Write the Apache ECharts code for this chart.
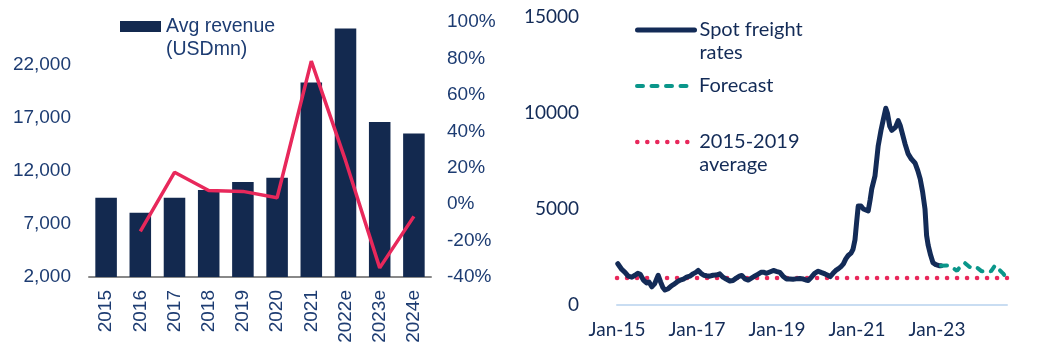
<!DOCTYPE html>
<html><head><meta charset="utf-8">
<script src="https://cdn.jsdelivr.net/npm/echarts@6/dist/echarts.min.js"></script>
<style>html,body{margin:0;padding:0;background:#fff}#c{width:1037px;height:356px}</style>
</head><body><div id="c"></div>
<script>
// ---- Left chart data ----
const categories = ['2015','2016','2017','2018','2019','2020','2021','2022e','2023e','2024e'];
const revenue = [9450, 8050, 9450, 10200, 10950, 11350, 20300, 25400, 16600, 15500];
const growthPct = [null, -15, 17.5, 7.5, 7, 3.5, 78.5, 24, -35, -6.7];
const revenueTicks = ['2,000','7,000','12,000','17,000','22,000'];

// ---- Right chart data ----
const spotDates = [2015.02,2015.06,2015.12,2015.20,2015.28,2015.37,2015.45,2015.52,2015.58,2015.66,2015.74,2015.80,2015.87,2015.94,
2016.03,2016.09,2016.15,2016.20,2016.28,2016.36,2016.44,2016.50,2016.58,2016.66,2016.74,2016.82,2016.90,2016.97,
2017.03,2017.10,2017.17,2017.24,2017.32,2017.40,2017.48,2017.57,2017.65,2017.73,2017.82,2017.90,2017.98,
2018.06,2018.12,2018.20,2018.28,2018.36,2018.44,2018.52,2018.60,2018.66,2018.74,2018.82,2018.91,2018.98,
2019.07,2019.15,2019.24,2019.32,2019.40,2019.48,2019.57,2019.66,2019.72,2019.78,2019.86,2019.94,
2020.03,2020.10,2020.20,2020.27,2020.33,2020.40,2020.47,2020.53,2020.60,2020.66,2020.72,2020.78,2020.85,2020.90,2020.95,2020.99,
2021.03,2021.10,2021.16,2021.22,2021.28,2021.33,2021.37,2021.45,2021.53,2021.60,2021.66,2021.72,2021.76,2021.82,2021.87,2021.92,2021.96,
2022.03,2022.08,2022.12,2022.20,2022.28,2022.36,2022.45,2022.52,2022.58,2022.64,2022.70,2022.74,2022.78,2022.84,2022.90,2022.97,
2023.05,2023.10];
const spotValues = [2150,2100,1850,1700,1500,1450,1550,1650,1600,1300,1150,1200,950,1100,
1550,1200,900,780,850,1000,1100,1200,1300,1350,1450,1500,1620,1700,
1800,1650,1550,1520,1500,1550,1560,1620,1450,1350,1250,1280,1400,
1500,1540,1360,1300,1400,1500,1600,1700,1710,1650,1720,1800,1750,
1700,1500,1360,1350,1340,1360,1380,1350,1300,1280,1450,1650,
1760,1700,1620,1550,1480,1650,1800,1880,2000,2140,2400,2580,2700,2900,3400,4300,
5150,5150,5000,4950,4900,5500,6060,6730,8290,9100,9680,10250,10000,9300,9100,9000,9250,
9600,9350,9300,8400,7870,7600,7400,7000,6570,5900,5000,3620,3100,2600,2200,2100,
2050,2050];
const forecastDates = [2023.10,2023.25,2023.35,2023.50,2023.62,2023.70,2023.80,2023.90,2024.00,2024.12,2024.25,2024.35,2024.45,2024.55,2024.65,2024.74];
const forecastValues = [2050,2060,2000,1780,2100,2180,2000,1900,1950,1750,1800,1750,2060,1850,1650,1400];
const average2015to2019 = 1400;
const timeTicks = ['Jan-15','Jan-17','Jan-19','Jan-21','Jan-23'];
const timeStart = 2015, timeEnd = 2024.75;

const NAVY = '#13294f', LBL = '#1d3c72', RNAVY = '#132b57', PINK = '#e8285b', TEAL = '#0a968a';
const ARIAL = '"Liberation Sans", Arial, sans-serif';
const RFONT = 'Lato, "Noto Sans", sans-serif';
const firstLine = n => '\n' + n;   // keeps the legend icon level with the first text line

const spotLine = {color: RNAVY, width: 5, join: 'round', cap: 'round'};
const forecastLine = {color: TEAL, width: 4, type: [6, 8.5], cap: 'round'};
const avgLine = {color: PINK, width: 4.5, type: [0.1, 9.9], cap: 'round'};

const chart = echarts.init(document.getElementById('c'));
chart.setOption({
  animation: false,
  grid: [
    {left: 89, top: 22, width: 342, height: 255},
    {left: 617, top: 17, width: 390, height: 288}
  ],
  legend: [
    {left: 120, top: -8, padding: 0, selectedMode: false, formatter: firstLine,
     itemWidth: 41, itemHeight: 11, icon: 'rect', data: ['Avg revenue\n(USDmn)'],
     textStyle: {color: LBL, fontFamily: ARIAL, fontSize: 19.5, lineHeight: 23}},
    {left: 635, top: -4.5, padding: 0, selectedMode: false, formatter: firstLine,
     itemWidth: 57, itemHeight: 14, itemStyle: {opacity: 0}, lineStyle: spotLine,
     data: ['Spot freight\nrates'],
     textStyle: {color: RNAVY, fontFamily: RFONT, fontSize: 20, lineHeight: 23}},
    {left: 635, top: 74.5, padding: 0, selectedMode: false, itemWidth: 57, itemHeight: 14,
     itemStyle: {opacity: 0}, lineStyle: forecastLine, data: ['Forecast'],
     textStyle: {color: RNAVY, fontFamily: RFONT, fontSize: 20, lineHeight: 23}},
    {left: 635, top: 107.5, padding: 0, selectedMode: false, formatter: firstLine,
     itemWidth: 57, itemHeight: 14, itemStyle: {opacity: 0}, lineStyle: avgLine,
     data: ['2015-2019\naverage'],
     textStyle: {color: RNAVY, fontFamily: RFONT, fontSize: 20, lineHeight: 23}}
  ],
  xAxis: [
    {type: 'category', gridIndex: 0, data: categories,
     axisLine: {onZero: false, lineStyle: {color: '#888888', width: 2}}, axisTick: {show: false},
     axisLabel: {rotate: 90, margin: 13, color: LBL, fontFamily: ARIAL, fontSize: 19}},
    {type: 'value', gridIndex: 1, min: timeStart, max: timeEnd, interval: 2,
     splitLine: {show: false}, axisTick: {show: false},
     axisLine: {show: true, onZero: false, lineStyle: {color: '#c9ddf2', width: 2}},
     axisLabel: {margin: 15, color: RNAVY, fontFamily: RFONT, fontSize: 19, showMaxLabel: false,
       formatter: v => { const i = Math.round((v - timeStart) / 2); return (Math.abs(v - timeStart - 2*i) < 1e-6 && timeTicks[i]) ? timeTicks[i] : ''; }}}
  ],
  yAxis: [
    {type: 'value', gridIndex: 0, min: 2000, max: 26000, interval: 5000,
     splitLine: {show: false}, axisLine: {show: false}, axisTick: {show: false},
     axisLabel: {margin: 18, color: LBL, fontFamily: ARIAL, fontSize: 19,
       formatter: v => { const i = (v - 2000) / 5000; return Number.isInteger(i) && revenueTicks[i] ? revenueTicks[i] : ''; }}},
    {type: 'value', gridIndex: 0, min: -40, max: 100, interval: 20, position: 'right',
     splitLine: {show: false}, axisLine: {show: false}, axisTick: {show: false},
     axisLabel: {margin: 16, color: LBL, fontFamily: ARIAL, fontSize: 19, formatter: v => v + '%'}},
    {type: 'value', gridIndex: 1, min: 0, max: 15000, interval: 5000,
     splitLine: {show: false}, axisLine: {show: false}, axisTick: {show: false},
     axisLabel: {margin: 38, color: RNAVY, fontFamily: RFONT, fontSize: 19, formatter: v => String(v)}}
  ],
  series: [
    {name: 'Avg revenue\n(USDmn)', type: 'bar', xAxisIndex: 0, yAxisIndex: 0, data: revenue,
     barWidth: '63%', itemStyle: {color: NAVY}},
    {name: 'Growth', type: 'line', xAxisIndex: 0, yAxisIndex: 1, data: growthPct,
     symbol: 'none', lineStyle: {color: PINK, width: 3.5}, z: 5},
    {name: '2015-2019\naverage', type: 'line', xAxisIndex: 1, yAxisIndex: 2,
     data: [[timeStart, average2015to2019], [timeEnd, average2015to2019]],
     symbol: 'none', itemStyle: {color: PINK}, lineStyle: avgLine, z: 2},
    {name: 'Spot freight\nrates', type: 'line', xAxisIndex: 1, yAxisIndex: 2,
     data: spotDates.map((d, i) => [d, spotValues[i]]),
     symbol: 'none', itemStyle: {color: RNAVY}, lineStyle: spotLine, z: 3},
    {name: 'Forecast', type: 'line', xAxisIndex: 1, yAxisIndex: 2,
     data: forecastDates.map((d, i) => [d, forecastValues[i]]),
     symbol: 'none', itemStyle: {color: TEAL}, lineStyle: forecastLine, z: 3}
  ]
});
</script></body></html>
